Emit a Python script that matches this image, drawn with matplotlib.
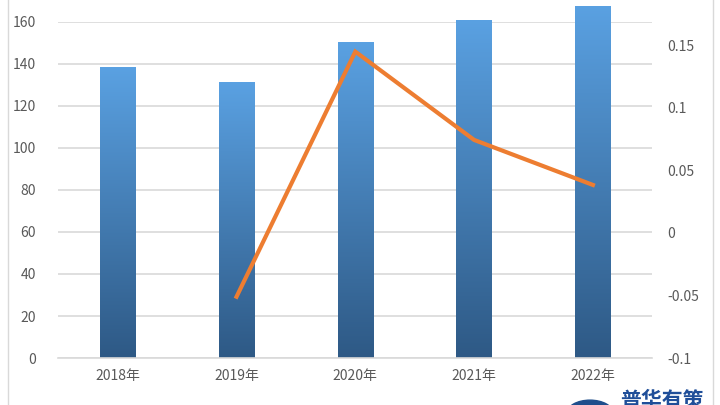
import matplotlib
matplotlib.use('Agg')
import matplotlib.pyplot as plt
from matplotlib.colors import LinearSegmentedColormap
from matplotlib.patches import Circle
import numpy as np

plt.rcParams['font.family'] = ['Noto Sans CJK SC', 'DejaVu Sans']

# data
years = ['2018年', '2019年', '2020年', '2021年', '2022年']
bar_values = [138.3, 131.3, 150.4, 161.0, 167.6]
line_years = ['2019年', '2020年', '2021年', '2022年']
growth = [-0.051, 0.145, 0.0744, 0.0384]
left_ticks = [0, 20, 40, 60, 80, 100, 120, 140, 160]
right_ticks = [-0.1, -0.05, 0, 0.05, 0.1, 0.15]
right_labels = ['-0.1', '-0.05', '0', '0.05', '0.1', '0.15']

fig = plt.figure(figsize=(7.2, 4.05), dpi=100)
ax = fig.add_axes([0.081, 0.116, 0.825, 0.830])

x = np.arange(len(years))
bw = 0.30
cmap = LinearSegmentedColormap.from_list('bluegrad', ['#2E5985', '#5AA1E2'])
grad = np.linspace(0, 1, 256).reshape(-1, 1)

bars = ax.bar(x, bar_values, width=bw, color='none', edgecolor='none', zorder=2)
for b in bars:
    x0, y0 = b.get_x(), b.get_y()
    im = ax.imshow(grad, cmap=cmap, origin='lower', aspect='auto',
                   extent=[x0, x0 + b.get_width(), y0, y0 + b.get_height()], zorder=2)
    im.set_clip_path(b)

ax.set_xlim(-0.5, len(years) - 0.5)
ax.set_ylim(0, 160)
ax.set_yticks(left_ticks)
ax.set_xticks(x)
ax.set_xticklabels(years)
ax.grid(axis='y', color='#D9D9D9', linewidth=1.2, zorder=0)
ax.set_axisbelow(True)
for s in ['top', 'right', 'left']:
    ax.spines[s].set_visible(False)
ax.spines['bottom'].set_color('#D9D9D9')
ax.spines['bottom'].set_linewidth(1.2)
ax.tick_params(axis='both', length=0, labelsize=10, colors='#595959')
ax.tick_params(axis='x', pad=8)
ax.tick_params(axis='y', pad=16)

ax2 = ax.twinx()
lx = [years.index(y) for y in line_years]
ax2.plot(lx, growth, color='#ED7D31', linewidth=3, zorder=5,
         solid_joinstyle='miter')
ax2.set_ylim(-0.1, 0.1688)
ax2.set_yticks(right_ticks)
ax2.set_yticklabels(right_labels)
for s in ax2.spines.values():
    s.set_visible(False)
ax2.tick_params(axis='y', length=0, labelsize=10, colors='#595959', pad=11)

# chart frame lines
fig.add_artist(plt.Line2D([0.0105, 0.0105], [0, 1], color='#D9D9D9', lw=1))
fig.add_artist(plt.Line2D([0.990, 0.990], [0, 1], color='#D9D9D9', lw=1))

# watermark logo, cut off at the bottom edge like in the source
fig.add_artist(Circle((590 / 720, -0.02), 0.032, transform=fig.transFigure,
                      color='#1F4E8C', clip_on=False))
fig.text(620 / 720, 0.038, '普华有策', fontsize=15, fontweight='bold',
         color='#1F4E99', va='top', ha='left')

fig.savefig('out.png', dpi=100)
